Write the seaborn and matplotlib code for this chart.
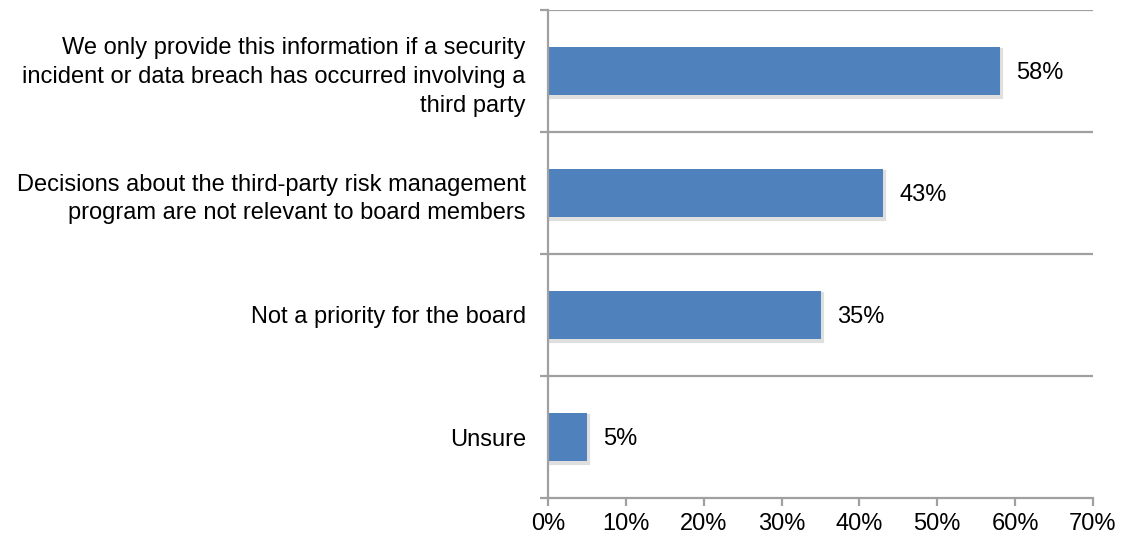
import matplotlib
matplotlib.use("Agg")
import matplotlib.pyplot as plt
import matplotlib.patheffects as pe
import seaborn as sns
import pandas as pd
import numpy as np

categories = [
    "We only provide this information if a security\nincident or data breach has occurred involving a\nthird party",
    "Decisions about the third-party risk management\nprogram are not relevant to board members",
    "Not a priority for the board",
    "Unsure",
]
values = [58, 43, 35, 5]
x_ticks = [0, 10, 20, 30, 40, 50, 60, 70]
x_tick_labels = ["0%", "10%", "20%", "30%", "40%", "50%", "60%", "70%"]

sns.set_theme(style="white")
plt.rcParams["font.family"] = ["Liberation Sans", "DejaVu Sans"]

BAR = "#4F81BD"
GRID = "#A0A0A0"
FS = 17

df = pd.DataFrame({"reason": categories, "pct": values})

fig = plt.figure(figsize=(11.22, 5.37), dpi=100)
ax = fig.add_axes([548 / 1122, 1 - 498 / 537, (1093 - 548) / 1122, (498 - 10) / 537])

sns.barplot(data=df, y="reason", x="pct", orient="h", color=BAR,
            width=0.39, saturation=1, ax=ax)

for patch in ax.patches:
    patch.set_edgecolor("none")
    patch.set_path_effects([
        pe.SimpleLineShadow(offset=(1.0, -1.8), shadow_color="#808080", alpha=0.25, linewidth=3),
        pe.Normal(),
    ])

ax.set_xlim(0, 70)
ax.set_ylim(len(categories) - 0.5, -0.5)

# Category separators
bounds = np.arange(-0.5, len(categories), 1.0)
for b in bounds[:-1]:
    ax.axhline(b, color=GRID, linewidth=1.6, zorder=0)

ax.set_xticks(x_ticks)
ax.set_xticklabels(x_tick_labels, fontsize=FS)
ax.set_yticks(range(len(categories)))
ax.set_yticklabels(categories, fontsize=FS, multialignment="right", linespacing=1.4)
ax.set_yticks(bounds, minor=True)

ax.tick_params(axis="y", which="major", length=0, pad=16, colors="black")
ax.tick_params(axis="y", which="minor", length=6, width=1.6, color=GRID, direction="out", left=True)
ax.tick_params(axis="x", which="major", length=6, width=1.6, color=GRID, direction="out",
               bottom=True, pad=5, labelcolor="black")

for side in ["top", "right"]:
    ax.spines[side].set_visible(False)
for side in ["left", "bottom"]:
    ax.spines[side].set_color(GRID)
    ax.spines[side].set_linewidth(1.6)

ax.set_xlabel("")
ax.set_ylabel("")

for i, v in enumerate(values):
    ax.annotate(f"{v}%", xy=(v, i), xytext=(12, -1.5), textcoords="offset points",
                ha="left", va="center", fontsize=FS, color="black")

fig.savefig("out.png", dpi=100)
